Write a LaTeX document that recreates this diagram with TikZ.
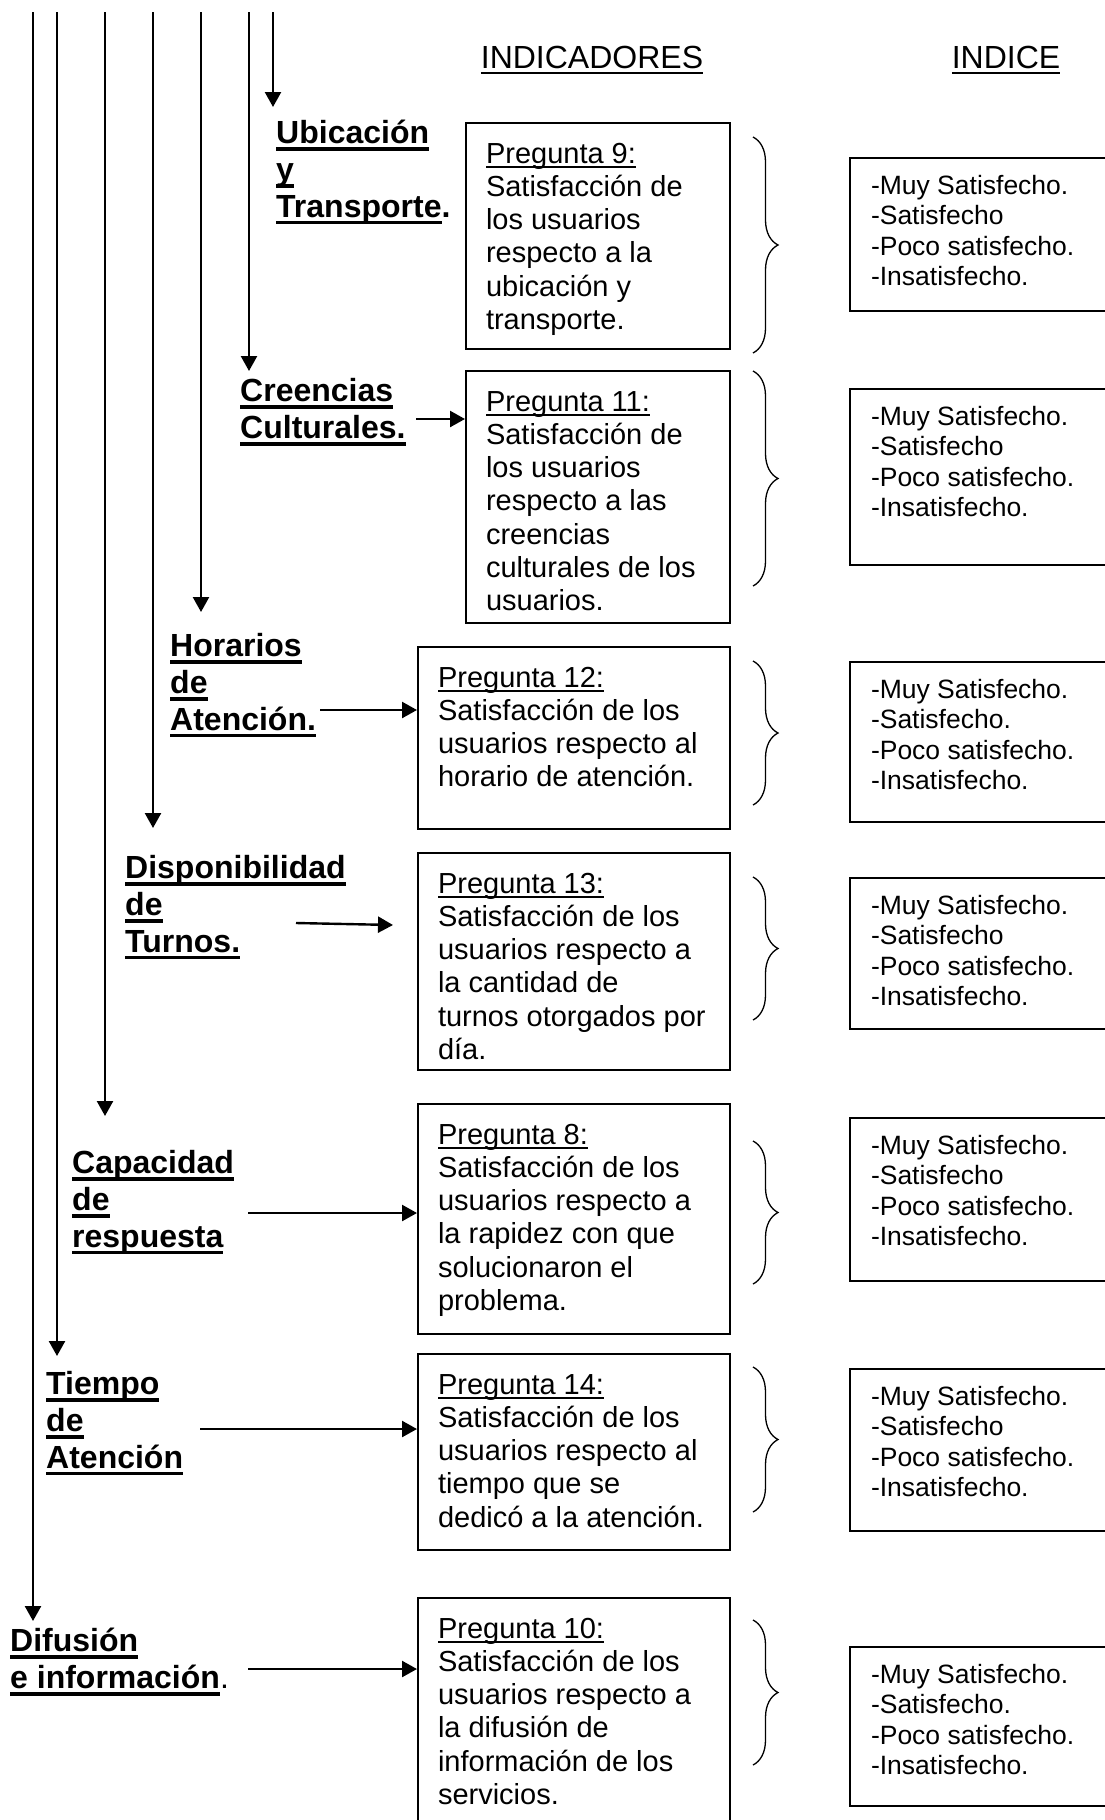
\documentclass[tikz,border=0pt]{standalone}
\usepackage{fontspec}
\setmainfont{Liberation Sans}
\usetikzlibrary{arrows.meta,decorations.pathreplacing}

% subrayado grueso (titulos en negrita) y fino (texto normal)
\newcommand\ulb[1]{\leavevmode\setbox0=\hbox{#1}\rlap{\rule[-0.22em]{\wd0}{0.11em}}\box0}
\newcommand\ult[1]{\leavevmode\setbox0=\hbox{#1}\rlap{\rule[-0.16em]{\wd0}{0.065em}}\box0}
% texto alineado arriba dentro de una caja: ancho, alto, primera linea, texto
\newcommand\caja[4]{\parbox[t][#2][t]{#1}{\raggedright\rule{0pt}{#3}\ignorespaces#4}}
\newcommand\sinsalto{\lineskiplimit=-50pt\relax}

\begin{document}
\begin{tikzpicture}[x=1pt,y=-1pt,
	flecha/.style={line width=2.4pt,-{Triangle[length=15pt,width=16pt]}},
	etiq/.style={anchor=north west,inner sep=0pt,align=left,font=\bfseries\fontsize{32}{36.8}\selectfont\sinsalto},
	titulo/.style={anchor=base,inner sep=0pt,font=\fontsize{32}{36.8}\selectfont},
	preg/.style={draw,line width=2pt,anchor=north west,inner xsep=20pt,inner ysep=0pt,font=\fontsize{29}{33.3}\selectfont\sinsalto},
	indice/.style={draw,line width=2pt,anchor=north west,inner xsep=21pt,inner ysep=0pt,font=\fontsize{26.5}{30.6}\selectfont\sinsalto},
	llave/.style={decorate,decoration={brace,amplitude=25pt},line width=1.3pt}]
	\useasboundingbox (0,0) rectangle (1105,1820);
	
	\node[titulo] (indicadores) at (592,68.5) {\ult{INDICADORES}};
	\node[titulo] (indice) at (1006,68.5) {\ult{INDICE}};
	
	\node[etiq] (ubic) at (276,112.5) {\rule{0pt}{31pt}\ulb{Ubicación}\\\ulb{y}\\\ulb{Transporte}.};
	\node[etiq] (creen) at (240,370.5) {\rule{0pt}{31pt}\ulb{Creencias}\\\ulb{Culturales.}};
	\node[etiq] (hora) at (170,625.5) {\rule{0pt}{31pt}\ulb{Horarios}\\\ulb{de}\\\ulb{Atención.}};
	\node[etiq] (disp) at (125,847.5) {\rule{0pt}{31pt}\ulb{Disponibilidad}\\\ulb{de}\\\ulb{Turnos.}};
	\node[etiq] (capa) at (72,1142.5) {\rule{0pt}{31pt}\ulb{Capacidad}\\\ulb{de}\\\ulb{respuesta}};
	\node[etiq] (tiem) at (46,1363.5) {\rule{0pt}{31pt}\ulb{Tiempo}\\\ulb{de}\\\ulb{Atención}};
	\node[etiq] (difu) at (10,1620.5) {\rule{0pt}{31pt}\ulb{Difusión}\\\ulb{e información}{\mdseries.}};
	
	\node[preg] (p9) at (465,122) {\caja{224pt}{226pt}{40pt}{\ult{Pregunta 9:}\\Satisfacción de\\los usuarios\\respecto a la\\ubicación y\\transporte.}};
	\node[preg] (p11) at (465,370) {\caja{224pt}{252pt}{40pt}{\ult{Pregunta 11:}\\Satisfacción de\\los usuarios\\respecto a las\\creencias\\culturales de los\\usuarios.}};
	\node[preg] (p12) at (417,646) {\caja{272pt}{182pt}{40pt}{\ult{Pregunta 12:}\\Satisfacción de los\\usuarios respecto al\\horario de atención.}};
	\node[preg] (p13) at (417,852) {\caja{272pt}{217pt}{40pt}{\ult{Pregunta 13:}\\Satisfacción de los\\usuarios respecto a\\la cantidad de\\turnos otorgados por\\día.}};
	\node[preg] (p8) at (417,1103) {\caja{272pt}{230pt}{40pt}{\ult{Pregunta 8:}\\Satisfacción de los\\usuarios respecto a\\la rapidez con que\\solucionaron el\\problema.}};
	\node[preg] (p14) at (417,1353) {\caja{272pt}{196pt}{40pt}{\ult{Pregunta 14:}\\Satisfacción de los\\usuarios respecto al\\tiempo que se\\dedicó a la atención.}};
	\node[preg] (p10) at (417,1597) {\caja{272pt}{260pt}{40pt}{\ult{Pregunta 10:}\\Satisfacción de los\\usuarios respecto a\\la difusión de\\información de los\\servicios.}};
	
	\node[indice] (i9) at (849,157) {\caja{234pt}{153pt}{36pt}{-Muy Satisfecho.\\-Satisfecho\\-Poco satisfecho.\\-Insatisfecho.}};
	\node[indice] (i11) at (849,388) {\caja{234pt}{176pt}{36pt}{-Muy Satisfecho.\\-Satisfecho\\-Poco satisfecho.\\-Insatisfecho.}};
	\node[indice] (i12) at (849,661) {\caja{234pt}{160pt}{36pt}{-Muy Satisfecho.\\-Satisfecho.\\-Poco satisfecho.\\-Insatisfecho.}};
	\node[indice] (i13) at (849,877) {\caja{234pt}{151pt}{36pt}{-Muy Satisfecho.\\-Satisfecho\\-Poco satisfecho.\\-Insatisfecho.}};
	\node[indice] (i8) at (849,1117) {\caja{234pt}{163pt}{36pt}{-Muy Satisfecho.\\-Satisfecho\\-Poco satisfecho.\\-Insatisfecho.}};
	\node[indice] (i14) at (849,1368) {\caja{234pt}{162pt}{36pt}{-Muy Satisfecho.\\-Satisfecho\\-Poco satisfecho.\\-Insatisfecho.}};
	\node[indice] (i10) at (849,1646) {\caja{234pt}{159pt}{36pt}{-Muy Satisfecho.\\-Satisfecho.\\-Poco satisfecho.\\-Insatisfecho.}};
	
	% lineas verticales que bajan a cada dimension
	\foreach \x/\yb/\n in {273/107/ubic,249/371/creen,201/612/hora,153/828/disp,105/1116/capa,57/1356/tiem,33/1621/difu}{
		\coordinate (s-\n) at (\x,12);
		\coordinate (t-\n) at (\x,\yb);
		\draw[flecha] (s-\n) -- (t-\n);
	}
	
	\coordinate (h-creen) at (416,419);
	\coordinate (h-hora) at (320,710);
	\coordinate (h-disp) at (296,923);
	\coordinate (e-disp) at (393,925);
	\coordinate (h-capa) at (248,1213);
	\coordinate (h-tiem) at (200,1429);
	\coordinate (h-difu) at (248,1669);
	\draw[flecha] (h-creen) -- (h-creen -| p11.west);
	\draw[flecha] (h-hora) -- (h-hora -| p12.west);
	\draw[flecha] (h-disp) -- (e-disp);
	\draw[flecha] (h-capa) -- (h-capa -| p8.west);
	\draw[flecha] (h-tiem) -- (h-tiem -| p14.west);
	\draw[flecha] (h-difu) -- (h-difu -| p10.west);
	
	\foreach \ya/\yb in {137/353,371/586,661/805,877/1020,1141/1284,1367/1512,1620/1765}
		\draw[llave] (753,\ya) -- (753,\yb);
\end{tikzpicture}
\end{document}
